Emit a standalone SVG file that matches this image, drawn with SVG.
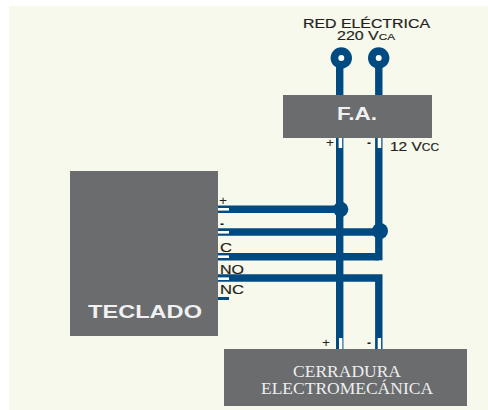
<svg xmlns="http://www.w3.org/2000/svg" width="488" height="410" viewBox="0 0 488 410">
<style>
.box{fill:#6a6c6e}
.w{fill:none;stroke:#004a82;stroke-width:7.4}
.d{fill:#004a82}
.s{fill:#fff}
text{font-family:"Liberation Sans",Arial,sans-serif;fill:#231f20}
.l{font-size:12px}
.v{font-size:13px;stroke:#231f20;stroke-width:.2}
.t{fill:#f1f1f1;font-size:18px;font-weight:bold}
.c{font-family:"Liberation Serif","Times New Roman",serif;fill:#eeeeee;font-size:17.5px;text-anchor:middle}
</style>
<rect width="488" height="410" fill="#fff"/>
<rect x="9" y="6" width="479" height="404" fill="#f7f9ec"/>
<g id="connectors">
<path class="w" d="M339.7 58V349"/>
<path class="w" d="M378.8 58V138"/>
<path class="w" d="M378.8 138V260.3"/>
<path class="w" d="M218 209.3H340"/>
<path class="w" d="M218 232H380"/>
<path class="w" d="M218 256.7H378.8"/>
<path class="w" d="M218 278H378.8V349"/>
<rect class="d" x="218" y="297" width="11" height="3"/>
<circle class="d" cx="340.7" cy="209.3" r="7.6"/>
<circle class="d" cx="380" cy="231" r="8"/>
<circle class="d" cx="341.3" cy="58" r="10.7"/>
<circle class="d" cx="378.7" cy="58" r="10.7"/>
<circle class="s" cx="341.3" cy="58" r="3"/>
<circle class="s" cx="378.7" cy="58" r="3"/>
<rect class="s" x="218" y="208" width="11" height="2.6"/>
<rect class="s" x="218" y="231" width="11" height="2.6"/>
<rect class="s" x="218" y="255.4" width="11" height="2.6"/>
<rect class="s" x="218" y="277.4" width="11" height="2.6"/>
<rect class="s" x="338.6" y="138" width="3.6" height="10"/>
<rect class="s" x="377.7" y="138" width="3.6" height="10"/>
<rect class="s" x="339" y="338" width="3.4" height="11"/>
<rect class="s" x="377.7" y="338" width="3.4" height="11"/>
</g>
<g id="red-electrica">
<text class="v" x="303" y="28" textLength="127" lengthAdjust="spacingAndGlyphs">RED ELÉCTRICA</text>
<text class="v" x="337" y="40" textLength="58" lengthAdjust="spacingAndGlyphs">220 V<tspan font-size="9.5">CA</tspan></text>
</g>
<g id="fa">
<rect class="box" x="283" y="95" width="149" height="43"/>
<text class="t" x="337" y="120" textLength="40" lengthAdjust="spacingAndGlyphs">F.A.</text>
</g>
<g id="fa-labels">
<text class="l" x="326" y="147" textLength="8" lengthAdjust="spacingAndGlyphs">+</text>
<text class="l" x="367" y="147" font-weight="bold">-</text>
<text class="v" x="390" y="151" textLength="49" lengthAdjust="spacingAndGlyphs">12 V<tspan font-size="10">CC</tspan></text>
</g>
<g id="teclado">
<rect class="box" x="70" y="171" width="148" height="165"/>
<text class="t" x="88" y="318" textLength="114" lengthAdjust="spacingAndGlyphs">TECLADO</text>
</g>
<g id="teclado-labels">
<text class="l" x="219" y="205" font-size="11" textLength="8" lengthAdjust="spacingAndGlyphs">+</text>
<text class="l" x="220" y="228" font-weight="bold">-</text>
<text class="v" x="220" y="252" textLength="12" lengthAdjust="spacingAndGlyphs">C</text>
<text class="v" x="220" y="274" textLength="24" lengthAdjust="spacingAndGlyphs">NO</text>
<text class="v" x="220" y="294" textLength="24" lengthAdjust="spacingAndGlyphs">NC</text>
</g>
<g id="cerradura">
<rect class="box" x="224" y="349" width="243" height="57"/>
<text class="c" x="347" y="377">CERRADURA</text>
<text class="c" x="347" y="394">ELECTROMECÁNICA</text>
</g>
<g id="cerradura-labels">
<text class="l" x="322" y="347" textLength="8" lengthAdjust="spacingAndGlyphs">+</text>
<text class="l" x="367" y="347" font-weight="bold">-</text>
</g>
</svg>
